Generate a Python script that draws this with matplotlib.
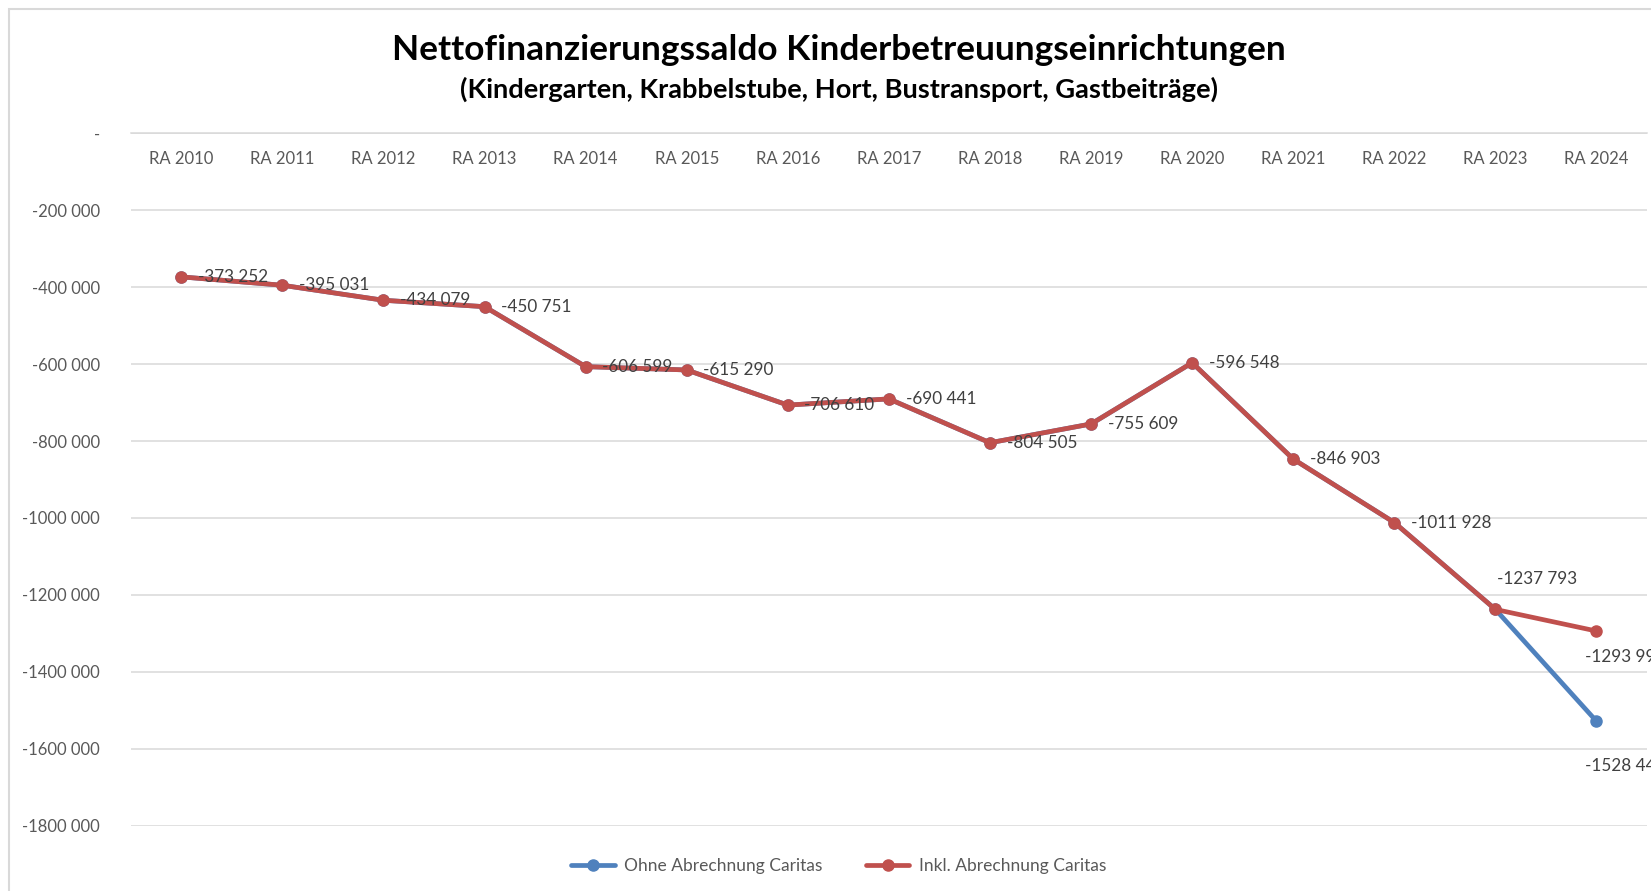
import matplotlib
matplotlib.use("Agg")
import matplotlib.pyplot as plt
from matplotlib.patches import Rectangle
from matplotlib.ticker import FuncFormatter

plt.rcParams['font.family'] = ['Lato', 'DejaVu Sans']

# data
years = ["RA 2010", "RA 2011", "RA 2012", "RA 2013", "RA 2014", "RA 2015", "RA 2016",
         "RA 2017", "RA 2018", "RA 2019", "RA 2020", "RA 2021", "RA 2022", "RA 2023", "RA 2024"]
ohne_caritas = [-373252, -395031, -434079, -450751, -606599, -615290, -706610,
                -690441, -804505, -755609, -596548, -846903, -1011928, -1237793, -1528440]
inkl_caritas = [-373252, -395031, -434079, -450751, -606599, -615290, -706610,
                -690441, -804505, -755609, -596548, -846903, -1011928, -1237793, -1293990]

BLUE = "#4F81BD"
RED = "#C0504D"
GRID = "#D9D9D9"
TXT = "#595959"
LBL = "#404040"


def fmt_num(v):
    if v == 0:
        return "-"
    a = int(round(abs(v)))
    s = f"{a // 1000} {a % 1000:03d}" if a >= 1000 else str(a)
    return ("-" if v < 0 else "") + s


fig = plt.figure(figsize=(16.51, 8.91), dpi=100)
ax = fig.add_axes([0.0792, 0.0733, 0.9184, 0.7771])

x = list(range(len(years)))
ax.plot(x, ohne_caritas, color=BLUE, lw=3.4, marker="o", ms=8,
        solid_capstyle="round", label="Ohne Abrechnung Caritas", zorder=3)
ax.plot(x, inkl_caritas, color=RED, lw=3.4, marker="o", ms=8,
        solid_capstyle="round", label="Inkl. Abrechnung Caritas", zorder=4)

# data labels (right of point, last ones above/below)
n = len(years)
for i, v in enumerate(inkl_caritas):
    if i < n - 2:
        ax.annotate(fmt_num(v), (i, v), xytext=(12, 0), textcoords="offset points",
                    ha="left", va="center", fontsize=12.3, color=LBL, zorder=5)
    elif i == n - 2:
        ax.annotate(fmt_num(v), (i, v), xytext=(1, 22), textcoords="offset points",
                    ha="left", va="center", fontsize=12.3, color=LBL, zorder=5)
    else:
        ax.annotate(fmt_num(v), (i, v), xytext=(-8, -19), textcoords="offset points",
                    ha="left", va="center", fontsize=12.3, color=LBL, zorder=5,
                    annotation_clip=False)
ax.annotate(fmt_num(ohne_caritas[-1]), (n - 1, ohne_caritas[-1]), xytext=(-8, -32),
            textcoords="offset points", ha="left", va="center", fontsize=12.3,
            color=LBL, zorder=5, annotation_clip=False)

ax.set_xlim(-0.5, n - 0.5)
ax.set_ylim(-1800000, 0)
ax.set_yticks(range(-1800000, 1, 200000))
ax.yaxis.set_major_formatter(FuncFormatter(lambda v, p: fmt_num(v)))
ax.set_xticks(x)
ax.set_xticklabels(years)

ax.grid(axis="y", color=GRID, lw=1.1)
ax.set_axisbelow(True)
for s in ["left", "right", "top"]:
    ax.spines[s].set_visible(False)
ax.spines["bottom"].set_position(("data", 0))
ax.spines["bottom"].set_color(GRID)
ax.spines["bottom"].set_linewidth(1.1)
ax.tick_params(axis="x", length=0, pad=13, labelsize=12, labelcolor=TXT)
ax.tick_params(axis="y", length=0, pad=22, labelsize=12, labelcolor=TXT)

fig.text(0.508, 0.9444, "Nettofinanzierungssaldo Kinderbetreuungseinrichtungen",
         ha="center", va="center", fontsize=25.4, fontweight="bold", color="black")
fig.text(0.508, 0.8996, "(Kindergarten, Krabbelstube, Hort, Bustransport, Gastbeiträge)",
         ha="center", va="center", fontsize=19.6, fontweight="bold", color="black")

fig.legend(loc="center", bbox_to_anchor=(0.508, 0.0275), ncol=2, frameon=False,
           fontsize=12.5, labelcolor=TXT, handlelength=2.5, handletextpad=0.55,
           columnspacing=2.5)

# chart area border
fig.add_artist(Rectangle((9 / 1651, -0.1), 1.0, 1 - 9 / 891 + 0.1,
                         transform=fig.transFigure, fill=False, ec=GRID, lw=1.5))

fig.savefig("out.png", dpi=100)
